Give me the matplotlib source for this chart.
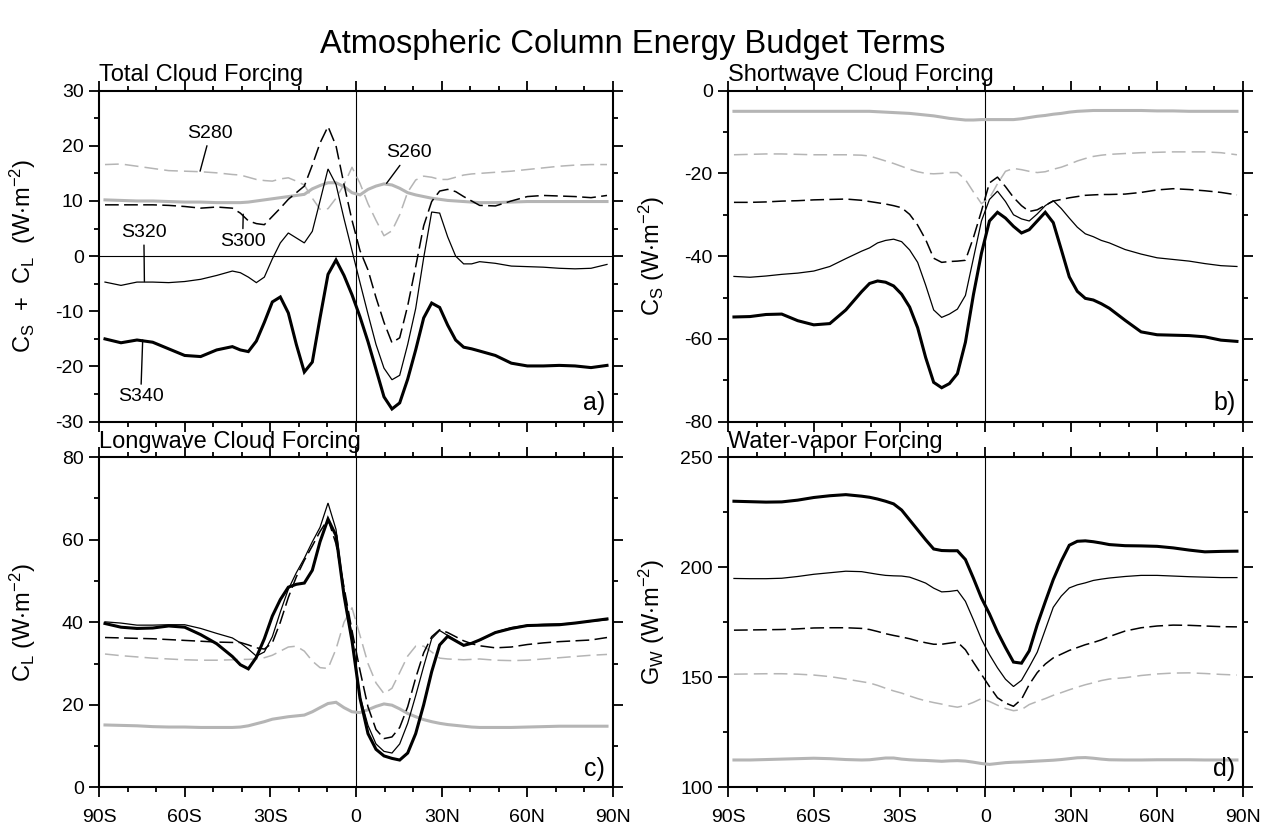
'''
Zonal-mean atmospheric column energy budget terms for five SST runs.
'''
import matplotlib
matplotlib.use('Agg')
import matplotlib.pyplot as plt
from matplotlib.ticker import MultipleLocator

plt.rcParams['font.family'] = ['Liberation Sans', 'DejaVu Sans']
plt.rcParams['mathtext.default'] = 'regular'
plt.rcParams['axes.unicode_minus'] = False

# T42 gaussian latitudes (subset)
lat = [-87.9, -82.3, -76.7, -71.2, -65.6, -60.0, -54.4, -48.8,
       -43.3, -40.5, -37.7, -34.9, -32.1, -29.3, -26.5, -23.7,
       -20.9, -18.1, -15.3, -12.6, -9.8, -7.0, -4.2, -1.4,
       1.4, 4.2, 7.0, 9.8, 12.6, 15.3, 18.1, 20.9,
       23.7, 26.5, 29.3, 32.1, 34.9, 37.7, 40.5, 43.3,
       48.8, 54.4, 60.0, 65.6, 71.2, 76.7, 82.3, 87.9]

# total cloud forcing  Cs + Cl
tcf_s260 = [10.2, 10.1, 10.0, 10.0, 9.9, 9.8, 9.8, 9.7,
            9.7, 9.7, 9.8, 10.0, 10.2, 10.4, 10.6, 10.8,
            11.0, 11.2, 12.2, 12.8, 13.3, 13.3, 12.6, 11.5,
            11.1, 12.1, 12.7, 13.1, 12.9, 12.3, 11.5, 11.1,
            10.8, 10.5, 10.3, 10.1, 10.0, 9.9, 9.8, 9.7,
            9.7, 9.8, 9.9, 9.9, 9.9, 9.9, 9.9, 9.9]
tcf_s280 = [16.6, 16.7, 16.3, 15.9, 15.5, 15.4, 15.3, 15.1,
            14.8, 14.7, 14.3, 13.9, 13.7, 13.6, 14.0, 14.2,
            13.6, 12.9, 10.5, 8.5, 8.6, 10.5, 13.0, 16.1,
            13.2, 9.5, 6.5, 3.7, 4.6, 7.5, 11.6, 13.8,
            14.5, 14.3, 13.9, 13.9, 14.3, 14.7, 14.9, 15.0,
            15.2, 15.4, 15.7, 16.0, 16.3, 16.5, 16.6, 16.6]
tcf_s300 = [9.3, 9.3, 9.3, 9.3, 9.2, 9.0, 8.7, 8.9,
            8.7, 7.8, 6.4, 5.9, 5.7, 7.2, 8.7, 10.3,
            11.5, 12.7, 16.5, 20.5, 23.5, 20.0, 13.0, 6.5,
            1.0, -2.5, -7.5, -12.0, -15.7, -14.8, -9.0, -1.9,
            5.5, 9.9, 11.8, 12.1, 11.7, 10.8, 10.0, 9.2,
            9.1, 10.0, 10.8, 11.0, 10.9, 10.8, 10.6, 11.0]
tcf_s320 = [-4.7, -5.3, -4.7, -4.7, -4.8, -4.6, -4.2, -3.5,
            -2.7, -3.0, -3.8, -4.8, -3.8, -0.5, 2.4, 4.2,
            3.3, 2.4, 4.5, 10.0, 15.8, 13.0, 6.8, 1.0,
            -4.8, -10.5, -16.0, -20.3, -22.4, -21.6, -16.0, -9.5,
            -0.3, 8.0, 7.8, 3.5, 0.0, -1.4, -1.4, -1.0,
            -1.3, -1.8, -1.9, -2.0, -2.2, -2.3, -2.2, -1.5]
tcf_s340 = [-15.0, -15.7, -15.2, -15.6, -16.8, -18.0, -18.2, -17.0,
            -16.4, -17.0, -17.3, -15.4, -12.0, -8.3, -7.4, -10.3,
            -16.0, -21.0, -19.2, -11.2, -3.3, -0.7, -3.5, -7.0,
            -11.0, -15.5, -20.5, -25.5, -27.7, -26.6, -22.3, -17.0,
            -11.2, -8.5, -9.3, -12.5, -15.2, -16.5, -16.8, -17.2,
            -18.0, -19.4, -19.9, -19.9, -19.8, -19.9, -20.2, -19.8]

# shortwave cloud forcing  Cs
scf_s260 = [-5.0, -5.0, -5.0, -5.0, -5.0, -5.0, -5.0, -5.0,
            -5.0, -5.0, -5.1, -5.2, -5.3, -5.4, -5.5, -5.7,
            -5.9, -6.1, -6.4, -6.7, -6.9, -7.1, -7.1, -7.0,
            -7.0, -7.0, -7.0, -7.0, -6.8, -6.5, -6.2, -6.0,
            -5.7, -5.5, -5.2, -5.0, -4.9, -4.8, -4.8, -4.8,
            -4.8, -4.8, -4.9, -4.9, -5.0, -5.0, -5.0, -5.0]
scf_s280 = [-15.5, -15.4, -15.3, -15.3, -15.4, -15.5, -15.5, -15.5,
            -15.6, -15.8, -16.4, -17.0, -17.6, -18.3, -19.0, -19.6,
            -20.0, -20.1, -20.0, -19.8, -19.8, -21.5, -24.5, -27.3,
            -26.0, -22.5, -19.5, -18.8, -19.1, -19.5, -19.8, -19.6,
            -19.0, -18.5, -17.8, -17.0, -16.4, -15.9, -15.6, -15.4,
            -15.2, -15.0, -14.9, -14.8, -14.8, -14.8, -15.0, -15.5]
scf_s300 = [-27.0, -27.0, -26.9, -26.7, -26.6, -26.4, -26.3, -26.2,
            -26.5, -26.8, -27.1, -27.4, -27.8, -28.3, -29.9, -32.5,
            -36.0, -40.5, -41.5, -41.3, -41.2, -41.0, -35.5, -29.1,
            -22.3, -20.9, -23.2, -25.8, -27.8, -29.2, -28.8, -27.7,
            -26.7, -26.3, -25.9, -25.6, -25.3, -25.2, -25.1, -25.1,
            -25.0, -24.6, -24.0, -23.7, -23.9, -24.2, -24.6, -25.2]
scf_s320 = [-44.9, -45.1, -44.8, -44.4, -44.1, -43.6, -42.5, -40.6,
            -38.8, -38.0, -36.8, -36.2, -35.9, -36.5, -38.5, -41.5,
            -47.0, -53.0, -54.8, -54.0, -52.8, -49.5, -40.5, -31.5,
            -26.3, -24.3, -26.8, -30.0, -31.0, -31.5, -29.8, -27.8,
            -26.6, -28.5, -30.8, -33.0, -34.6, -35.3, -36.2, -36.8,
            -38.4, -39.5, -40.4, -40.8, -41.2, -41.8, -42.3, -42.5]
scf_s340 = [-54.7, -54.6, -54.1, -54.0, -55.6, -56.6, -56.3, -53.0,
            -48.6, -46.6, -46.0, -46.3, -47.2, -49.2, -52.3, -57.3,
            -64.5, -70.5, -71.8, -70.8, -68.4, -60.8, -49.3, -39.3,
            -31.5, -29.4, -30.8, -32.8, -34.4, -33.6, -31.5, -29.4,
            -31.9, -38.4, -45.0, -48.5, -50.2, -50.6, -51.5, -52.6,
            -55.5, -58.3, -59.0, -59.1, -59.2, -59.5, -60.3, -60.6]

# longwave cloud forcing  Cl
lcf_s260 = [15.1, 15.0, 14.9, 14.7, 14.6, 14.6, 14.5, 14.5,
            14.5, 14.6, 14.9, 15.4, 15.9, 16.5, 16.8, 17.1,
            17.3, 17.5, 18.3, 19.3, 20.3, 20.6, 19.3, 18.3,
            18.1, 18.8, 19.6, 20.2, 19.9, 19.0, 17.9, 17.1,
            16.4, 15.9, 15.5, 15.2, 15.0, 14.8, 14.6, 14.5,
            14.5, 14.5, 14.6, 14.7, 14.8, 14.8, 14.8, 14.8]
lcf_s280 = [32.3, 31.9, 31.6, 31.3, 31.1, 30.9, 30.8, 30.8,
            30.9, 31.0, 31.0, 31.1, 31.4, 32.0, 33.0, 34.0,
            34.2, 33.0, 30.6, 29.0, 28.8, 33.5, 40.0, 43.5,
            36.8, 30.0, 25.3, 22.7, 24.0, 27.8, 31.8, 34.2,
            34.2, 32.8, 31.3, 31.1, 31.0, 30.9, 31.0, 31.1,
            30.8, 30.7, 30.8, 31.1, 31.4, 31.7, 32.0, 32.2]
lcf_s300 = [36.3, 36.2, 36.1, 36.0, 35.8, 35.6, 35.4, 35.2,
            35.1, 35.1, 34.5, 33.8, 33.5, 35.0, 40.0, 46.0,
            51.0, 55.0, 58.5, 62.0, 65.0, 59.0, 48.5, 38.0,
            28.3, 19.5, 14.0, 11.8, 12.2, 14.5, 19.5, 26.5,
            32.6, 36.5, 38.2, 37.5, 36.5, 35.5, 34.8, 34.3,
            33.8, 34.0, 34.6, 35.0, 35.3, 35.5, 35.7, 36.3]
lcf_s320 = [40.1, 39.8, 39.3, 39.3, 39.4, 39.4, 38.5, 37.3,
            36.2, 35.0, 33.5, 31.8, 32.8, 36.5, 42.5, 48.0,
            52.0, 55.5, 59.5, 63.0, 68.9, 62.5, 47.5, 37.0,
            22.0, 15.0, 10.5, 8.7, 8.3, 10.5, 15.5, 22.2,
            29.3, 36.0, 38.0, 36.8, 35.6, 34.5, 35.0, 35.6,
            37.6, 38.7, 39.3, 39.5, 39.6, 39.8, 40.2, 40.6]
lcf_s340 = [39.7, 38.8, 38.5, 38.6, 39.1, 38.8, 37.0, 34.8,
            31.7, 29.7, 28.7, 31.5, 36.0, 41.5, 45.5, 48.5,
            49.2, 49.5, 52.6, 59.5, 65.0, 61.0, 46.5, 35.5,
            21.6, 13.0, 9.2, 7.6, 7.0, 6.6, 8.3, 13.0,
            20.0, 28.0, 34.5, 36.6, 35.5, 34.4, 34.9, 35.7,
            37.5, 38.5, 39.2, 39.3, 39.4, 39.8, 40.3, 40.8]

# water-vapor forcing  Gw
wvf_s260 = [112.4, 112.4, 112.6, 112.8, 113.0, 113.2, 113.0, 112.6,
            112.4, 112.5, 112.9, 113.3, 113.3, 112.8, 112.5, 112.3,
            112.2, 112.0, 111.8, 112.0, 112.1, 111.9, 111.4, 110.8,
            110.4, 110.8, 111.2, 111.4, 111.5, 111.7, 111.9, 112.1,
            112.3, 112.6, 113.0, 113.4, 113.5, 113.2, 112.8, 112.5,
            112.4, 112.4, 112.5, 112.5, 112.5, 112.4, 112.4, 112.4]
wvf_s280 = [151.4, 151.5, 151.6, 151.6, 151.4, 151.0, 150.3, 149.2,
            148.0, 147.4, 146.3, 145.0, 143.8, 142.8, 141.5, 140.3,
            139.3, 138.5, 137.8, 137.0, 136.4, 137.2, 138.6, 140.3,
            139.0, 137.3, 135.8, 134.8, 135.3, 137.6, 139.0, 140.3,
            141.8, 143.0, 144.3, 145.5, 146.6, 147.5, 148.5, 149.2,
            149.8, 150.8, 151.5, 151.9, 152.0, 151.7, 151.3, 151.0]
wvf_s300 = [171.4, 171.5, 171.6, 171.7, 172.0, 172.4, 172.5, 172.5,
            172.2, 171.7, 170.8, 169.8, 169.0, 168.3, 167.5, 166.5,
            165.7, 165.0, 165.0, 165.5, 166.0, 162.5, 156.8, 151.3,
            145.8, 140.7, 138.3, 136.8, 140.0, 146.7, 152.1, 156.0,
            158.8, 160.5, 162.2, 163.5, 164.8, 165.8, 167.0, 168.5,
            171.0, 172.5, 173.3, 173.7, 173.6, 173.3, 173.0, 172.9]
wvf_s320 = [194.9, 194.8, 194.8, 195.0, 195.8, 196.8, 197.5, 198.2,
            198.0, 197.4, 196.8, 196.3, 196.1, 196.0, 195.5, 194.2,
            192.8, 190.5, 188.8, 189.0, 189.5, 184.5, 176.1, 167.3,
            160.3, 154.3, 149.1, 145.8, 148.6, 154.7, 161.4, 171.6,
            181.8, 186.9, 190.6, 192.0, 192.9, 194.0, 194.6, 195.1,
            195.8, 196.3, 196.3, 196.0, 195.7, 195.5, 195.3, 195.3]
wvf_s340 = [230.0, 229.8, 229.6, 229.7, 230.5, 231.7, 232.5, 233.0,
            232.3, 231.8, 231.0, 230.0, 228.8, 226.0, 221.5, 217.0,
            212.5, 208.3, 207.6, 207.5, 207.5, 203.5, 195.0, 186.0,
            178.8, 170.6, 163.5, 156.9, 156.4, 162.0, 173.9, 184.3,
            194.4, 202.8, 210.0, 211.8, 212.0, 211.6, 211.0, 210.3,
            209.8, 209.7, 209.5, 208.8, 207.8, 207.0, 207.2, 207.3]

gray = '#b5b5b5'
styles = [
    dict(color=gray, lw=2.2),                        # S260
    dict(color=gray, lw=1.1, dashes=(9, 4)),         # S280
    dict(color='black', lw=1.1, dashes=(9, 3.5)),    # S300
    dict(color='black', lw=0.9),                     # S320
    dict(color='black', lw=2.2),                     # S340
]

panels = [
    dict(pos=[0.0782, 0.4938, 0.4060, 0.3974], title='Total Cloud Forcing',
         ylabel=r'C$_S$  +  C$_L$  (W$\cdot$m$^{-2}$)', tag='a)',
         series=[tcf_s260, tcf_s280, tcf_s300, tcf_s320, tcf_s340],
         ylim=(-30, 30), major=10, minor=5, xlabels=False),
    dict(pos=[0.5750, 0.4938, 0.4068, 0.3974], title='Shortwave Cloud Forcing',
         ylabel=r'C$_S$ (W$\cdot$m$^{-2}$)', tag='b)',
         series=[scf_s260, scf_s280, scf_s300, scf_s320, scf_s340],
         ylim=(-80, 0), major=20, minor=10, xlabels=False),
    dict(pos=[0.0782, 0.0549, 0.4060, 0.3962], title='Longwave Cloud Forcing',
         ylabel=r'C$_L$ (W$\cdot$m$^{-2}$)', tag='c)',
         series=[lcf_s260, lcf_s280, lcf_s300, lcf_s320, lcf_s340],
         ylim=(0, 80), major=20, minor=10, xlabels=True),
    dict(pos=[0.5750, 0.0549, 0.4068, 0.3962], title='Water-vapor Forcing',
         ylabel=r'G$_W$ (W$\cdot$m$^{-2}$)', tag='d)',
         series=[wvf_s260, wvf_s280, wvf_s300, wvf_s320, wvf_s340],
         ylim=(100, 250), major=50, minor=25, xlabels=True),
]

xticks = [-90, -60, -30, 0, 30, 60, 90]
xticklabels = ['90S', '60S', '30S', '0', '30N', '60N', '90N']

fig = plt.figure(figsize=(12.66, 8.33), dpi=100)
fig.text(0.5, 1 - 53 / 833, 'Atmospheric Column Energy Budget Terms',
         ha='center', va='baseline', fontsize=23.5)

axes = []
for p in panels:
    ax = fig.add_axes(p['pos'])
    ax.axvline(0, color='black', lw=0.8, zorder=1)
    if p['ylim'][0] < 0 < p['ylim'][1]:
        ax.axhline(0, color='black', lw=0.8, zorder=1)
    for values, style in zip(p['series'], styles):
        ax.plot(lat, values, solid_joinstyle='miter', zorder=2, **style)
    ax.set_xlim(-90, 90)
    ax.set_ylim(*p['ylim'])
    ax.set_xticks(xticks)
    ax.set_xticklabels(xticklabels)
    ax.xaxis.set_minor_locator(MultipleLocator(10))
    ax.yaxis.set_major_locator(MultipleLocator(p['major']))
    ax.yaxis.set_minor_locator(MultipleLocator(p['minor']))
    ax.tick_params(which='both', direction='out', top=True, right=True,
                   width=1.3, labelsize=14, labelbottom=p['xlabels'])
    ax.tick_params(which='major', length=7, pad=4)
    ax.tick_params(which='minor', length=3.5)
    ax.tick_params(axis='x', which='major', pad=9)
    for spine in ax.spines.values():
        spine.set_linewidth(1.5)
    ax.set_ylabel(p['ylabel'], fontsize=17)
    ax.yaxis.set_label_coords(-0.118, 0.5)
    ax.text(0.0, 1.028, p['title'], transform=ax.transAxes,
            ha='left', va='baseline', fontsize=17)
    ax.text(0.985, 0.035, p['tag'], transform=ax.transAxes,
            ha='right', va='baseline', fontsize=18)
    axes.append(ax)

# run labels on the total cloud forcing panel
ax = axes[0]
run_labels = [
    ('S280', (-54.6, 15.4), (-51.0, 22.3)),
    ('S300', (-39.5, 7.6), (-39.7, 2.7)),
    ('S320', (-74.1, -4.6), (-74.3, 4.3)),
    ('S340', (-74.7, -15.2), (-75.4, -25.5)),
    ('S260', (10.7, 13.2), (18.6, 18.7)),
]
for text, xy, xytext in run_labels:
    ax.annotate(text, xy=xy, xytext=xytext, ha='center', va='center',
                fontsize=14,
                arrowprops=dict(arrowstyle='-', color='black', lw=1.0,
                                shrinkA=1, shrinkB=0))

fig.savefig('out.png', dpi=100)
